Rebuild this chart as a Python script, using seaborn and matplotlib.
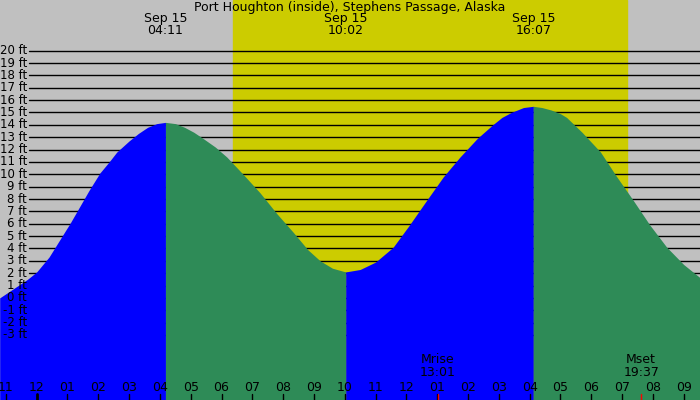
import matplotlib
matplotlib.use("Agg")
import matplotlib.pyplot as plt
import seaborn as sns
import numpy as np
import pandas as pd

sns.set_theme(style="white")
plt.rcParams['font.family'] = ['DejaVu Sans']
plt.rcParams['text.color'] = 'black'

title = "Port Houghton (inside), Stephens Passage, Alaska"
# hours since midnight Sep 15, tide height ft
hours = [-1.2, -0.9, -0.6, -0.3, 0.0, 0.4, 0.75, 1.1, 1.4, 1.7, 2.05, 2.35, 2.6, 3.0, 3.3, 3.6, 3.9, 4.18, 4.5, 4.8, 5.1, 5.4, 5.8, 6.17, 6.7, 7.25, 7.8, 8.33, 8.8, 9.2, 9.6, 10.03,
         10.5, 11.0, 11.57, 12.1, 12.66, 13.2, 13.74, 14.3, 14.8, 15.1, 15.4, 15.8, 16.12, 16.4, 16.7, 17.0, 17.2, 17.7, 18.3, 18.8, 19.36, 19.9, 20.45, 21.0, 21.6]
heights = [0.0, 0.5, 1.0, 1.5, 2.1, 3.3, 4.7, 6.1, 7.4, 8.7, 10.1, 11.0, 11.8, 12.7, 13.3, 13.8, 14.1, 14.2, 14.1, 13.8, 13.4, 12.9, 12.2, 11.4, 10.0, 8.5, 6.8, 5.3, 3.9, 3.0, 2.4, 2.1,
           2.3, 2.9, 4.1, 5.9, 7.9, 9.8, 11.4, 12.9, 14.0, 14.6, 15.0, 15.4, 15.5, 15.4, 15.2, 14.9, 14.6, 13.4, 11.8, 9.9, 7.9, 5.9, 4.1, 2.7, 1.5]
extreme_times = [4.18, 10.03, 16.12]
extreme_labels = ["04:11", "10:02", "16:07"]
day_start, day_end = 6.37, 19.16
moon_times = [13.02, 19.62]
moon_labels = ["Mrise\n13:01", "Mset\n19:37"]
tick_hours = list(range(-1, 22))
tick_labels = ["11", "12", "01", "02", "03", "04", "05", "06", "07", "08", "09", "10", "11", "12",
               "01", "02", "03", "04", "05", "06", "07", "08", "09"]
ft_levels = list(range(-3, 21))

df = pd.DataFrame({"t": hours, "h": heights})

fig = plt.figure(figsize=(7, 4), dpi=100)
ax = fig.add_axes([0, 0, 1, 1])
x0, x1 = -1.19, 21.53
y0, y1 = -8.26, 24.1
ax.set_xlim(x0, x1); ax.set_ylim(y0, y1)
ax.set_facecolor("#c0c0c0")
ax.axvspan(day_start, day_end, color="#cccc00", zorder=0)
lx = -0.25
for f in ft_levels:
    ax.plot([lx, x1], [f, f], color="black", lw=1, zorder=1)
    ax.text(lx - 0.06, f, f"{f} ft", ha="right", va="center", fontsize=8.5, color="black", zorder=5)

t = np.array(hours); h = np.array(heights)
bounds = [x0 - 1] + extreme_times + [x1 + 1]
for i in range(len(bounds) - 1):
    m = (t >= bounds[i]) & (t <= bounds[i + 1])
    col = "#0000ff" if i % 2 == 0 else "#2e8b57"
    ax.fill_between(t[m], y0, h[m], color=col, lw=0, zorder=2)
sns.lineplot(data=df, x="t", y="h", ax=ax, lw=0, legend=False)

ax.text((x0 + x1) / 2, y1 - 0.6, title, ha="center", va="center", fontsize=9, color="black")
for et, el in zip(extreme_times, extreme_labels):
    ax.text(et, y1 - 2.0, "Sep 15\n" + el, ha="center", va="center", fontsize=9, linespacing=0.95, color="black")

for th, tl in zip(tick_hours, tick_labels):
    ax.text(th, -7.25, tl, ha="center", va="center", fontsize=9, color="black", zorder=5)
    ax.plot([th, th], [y0, -7.75], color="black", lw=2 if th == 0 else 1, zorder=5)
for mt, ml in zip(moon_times, moon_labels):
    ax.plot([mt, mt], [y0, -7.75], color="red", lw=1, zorder=5)
    ax.text(mt, -5.5, ml, ha="center", va="center", fontsize=9, linespacing=0.95, color="black", zorder=5)

ax.set_xticks([]); ax.set_yticks([])
ax.set_xlabel(""); ax.set_ylabel("")
for s in ax.spines.values():
    s.set_visible(False)
fig.savefig("out.png", dpi=100)
